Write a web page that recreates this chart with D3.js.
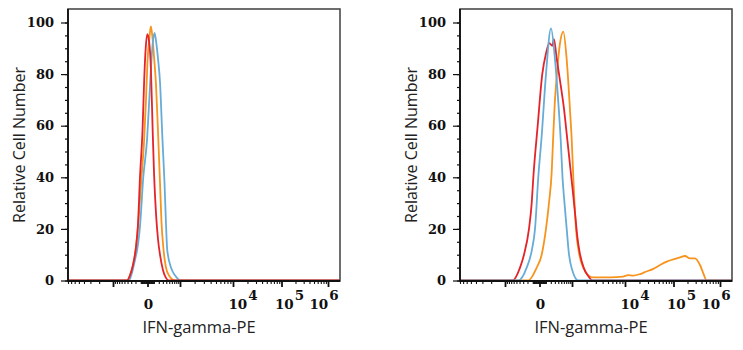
<!DOCTYPE html>
<html lang="en">
  <head>
    <meta charset="UTF-8" />
    <title>IFN-gamma-PE</title>
    <script src="https://d3js.org/d3.v7.min.js"></script>
    <style>
      body { margin: 0; background: #fff; }
    </style>
  </head>
  <body>
    <svg width="743" height="350"></svg>
    <script>
      // histogram values: [intensity, relative cell number]
      const leftRed = [[-8000,0],[-417,0],[-331,2],[-256,6],[-189,13],[-149,22],[-113,40],[-71,58],[-45,78],[-24,90],[-3,95.5],
        [21,93],[50,82],[79,58],[102,42],[140,26],[182,16],[227,10],[304,4],[391,1],[474,0],[1.8e6,0]];
      const leftOrange = [[-8000,0],[-417,0],[-331,2],[-256,6],[-189,13],[-149,21],[-87,40],[-45,55],[-20,70],[0,85],[30,95],[50,98.5],
        [76,94],[102,87],[140,76],[188,55],[227,38],[263,23],[318,12],[391,5],[491,2],[606,0.5],[738,0],[1.8e6,0]];
      const leftBlue = [[-8000,0],[-359,0],[-280,3],[-210,8],[-149,14],[-113,21],[-59,40],[-5,55],[25,70],[50,82],[80,92],[112,96],
        [140,93],[182,86],[227,77],[288,55],[346,38],[391,22],[430,12],[566,5],[738,2],[1030,0],[1.8e6,0]];

      const rightRed = [[-8000,0],[-637,0],[-387,5],[-280,10],[-169,20],[-118,30],[-90,40],[-24,60],[40,80],[102,88],[167,92],
        [234,91],[276,93.5],[352,86],[450,78],[600,67],[760,54],[900,44],[1036,35],[1180,25],[1300,17],[1450,11],[1750,5],
        [2100,2],[2617,0],[1.8e6,0]];
      const rightOrange = [[-8000,0],[-183,0],[-38,5],[31,10],[102,20],[160,30],[220,42],[255,55],[295,68],[352,79],[457,92],
        [578,96.5],[724,85.6],[888,66],[983,54.6],[1068,40],[1220,20],[1429,10],[1721,5],[2157,2],[2687,1.2],[5434,1.2],
        [9226,1.5],[11560,2.1],[14700,1.9],[20540,2.5],[27160,3.4],[38620,4.5],[53010,6],[72720,7.3],[99180,8.2],
        [138180,9],[176900,9.5],[226500,8.6],[290100,8.6],[371400,6],[437700,2.8],[517800,0],[1.8e6,0]];
      const rightBlue = [[-8000,0],[-439,0],[-217,5],[-113,12],[-63,20],[-16,40],[31,56],[102,80],[204,97.7],[304,85.6],
        [401,69],[481,54.6],[547,40],[627,30],[724,20],[836,10],[1015,4],[1363,0],[1.8e6,0]];

      const yTicks = [0, 20, 40, 60, 80, 100];
      const xMajor = [-1000, 0, 1000, 1e4, 1e5, 1e6];
      const xLabelValues = [0, 1e4, 1e5, 1e6];
      const xLabelExps = ["", "4", "5", "6"];

      const colors = { red: "#e3242b", orange: "#f7941d", blue: "#67acd8" };

      // minor ticks for the biexponential axis
      const xMinor = [];
      [1000, 1e4, 1e5].forEach((d) => d3.range(2, 10).forEach((k) => xMinor.push(k * d)));
      d3.range(2, 9).forEach((k) => xMinor.push(-k * 1000));
      [10, 100].forEach((d) => d3.range(1, 10).forEach((k) => { xMinor.push(k * d); xMinor.push(-k * d); }));

      const svg = d3.select("svg");
      const plotTop = 9, plotBottom = 281, plotW = 272;

      const y = d3.scaleLinear().domain([0, 100]).range([280.5, 22.5]);

      function drawPanel(left, series) {
        const x = d3.scaleSymlog()
          .constant(300)
          .domain([-8000, -1000, 0, 1000, 1e4, 1e5, 1e6, 1.8e6])
          .range([0, 45, 79.5, 112, 165, 213.5, 260, 272].map((r) => left + r));

        const g = svg.append("g");

        // curves
        const line = d3.line()
          .x((d) => x(d[0]))
          .y((d) => y(d[1]))
          .curve(d3.curveMonotoneX);
        series.forEach((s) => {
          g.append("path")
            .attr("d", line(s.data))
            .attr("fill", "none")
            .attr("stroke", s.color)
            .attr("stroke-width", 1.8)
            .attr("stroke-linejoin", "round");
        });

        // frame
        g.append("rect")
          .attr("x", left).attr("y", plotTop)
          .attr("width", plotW).attr("height", plotBottom - plotTop)
          .attr("fill", "none").attr("stroke", "#4a4a4a").attr("stroke-width", 1.6);
        g.append("path")
          .attr("d", `M${left},${plotTop}V${plotBottom}H${left + plotW}`)
          .attr("fill", "none").attr("stroke", "#111").attr("stroke-width", 1.8);

        // y axis
        const yMinor = g.append("g").attr("transform", `translate(${left},0)`)
          .call(d3.axisLeft(y).tickValues(d3.range(0, 101, 5)).tickSize(3).tickFormat(""));
        const yMaj = g.append("g").attr("transform", `translate(${left},0)`)
          .call(d3.axisLeft(y).tickValues(yTicks).tickSize(7).tickPadding(7));
        [yMinor, yMaj].forEach((a) => {
          a.select(".domain").remove();
          a.selectAll("line").attr("stroke", "#111").attr("stroke-width", 1.2);
        });
        yMaj.selectAll("text")
          .attr("font-family", "DejaVu Serif")
          .attr("font-weight", "bold")
          .attr("font-size", 13)
          .attr("fill", "#111");

        // x axis
        const xMin = g.append("g").attr("transform", `translate(0,${plotBottom})`)
          .call(d3.axisBottom(x).tickValues(xMinor).tickSize(3).tickFormat(""));
        const xMaj = g.append("g").attr("transform", `translate(0,${plotBottom})`)
          .call(d3.axisBottom(x).tickValues(xMajor).tickSize(6).tickFormat(""));
        [xMin, xMaj].forEach((a) => {
          a.select(".domain").remove();
          a.selectAll("line").attr("stroke", "#111").attr("stroke-width", 1.1);
        });
        xMaj.selectAll("line").attr("stroke-width", 1.8);

        // x tick labels (0, 10^4, 10^5, 10^6)
        const labelShift = [1, 10, 8, -4];
        xLabelValues.forEach((v, i) => {
          const t = g.append("text")
            .attr("x", x(v) + labelShift[i])
            .attr("y", 309)
            .attr("text-anchor", "middle")
            .attr("font-family", "DejaVu Serif")
            .attr("font-weight", "bold")
            .attr("font-size", 13.5)
            .attr("fill", "#111");
          if (xLabelExps[i] === "") {
            t.text("0");
          } else {
            t.append("tspan").text("10");
            t.append("tspan").attr("dx", 1).attr("dy", -9).text(xLabelExps[i]);
          }
        });

        // axis titles
        g.append("text")
          .attr("transform", `translate(${left - 43},${(plotTop + plotBottom) / 2}) rotate(-90)`)
          .attr("text-anchor", "middle")
          .attr("font-family", "Open Sans")
          .attr("font-size", 16)
          .attr("fill", "#222")
          .text("Relative Cell Number");
        g.append("text")
          .attr("x", left + plotW / 2 - 5)
          .attr("y", 333)
          .attr("text-anchor", "middle")
          .attr("font-family", "Open Sans")
          .attr("font-size", 16.5)
          .attr("fill", "#222")
          .text("IFN-gamma-PE");
      }

      drawPanel(68, [
        { data: leftOrange, color: colors.orange },
        { data: leftBlue, color: colors.blue },
        { data: leftRed, color: colors.red },
      ]);
      drawPanel(460, [
        { data: rightOrange, color: colors.orange },
        { data: rightRed, color: colors.red },
        { data: rightBlue, color: colors.blue },
      ]);
    </script>
  </body>
</html>
